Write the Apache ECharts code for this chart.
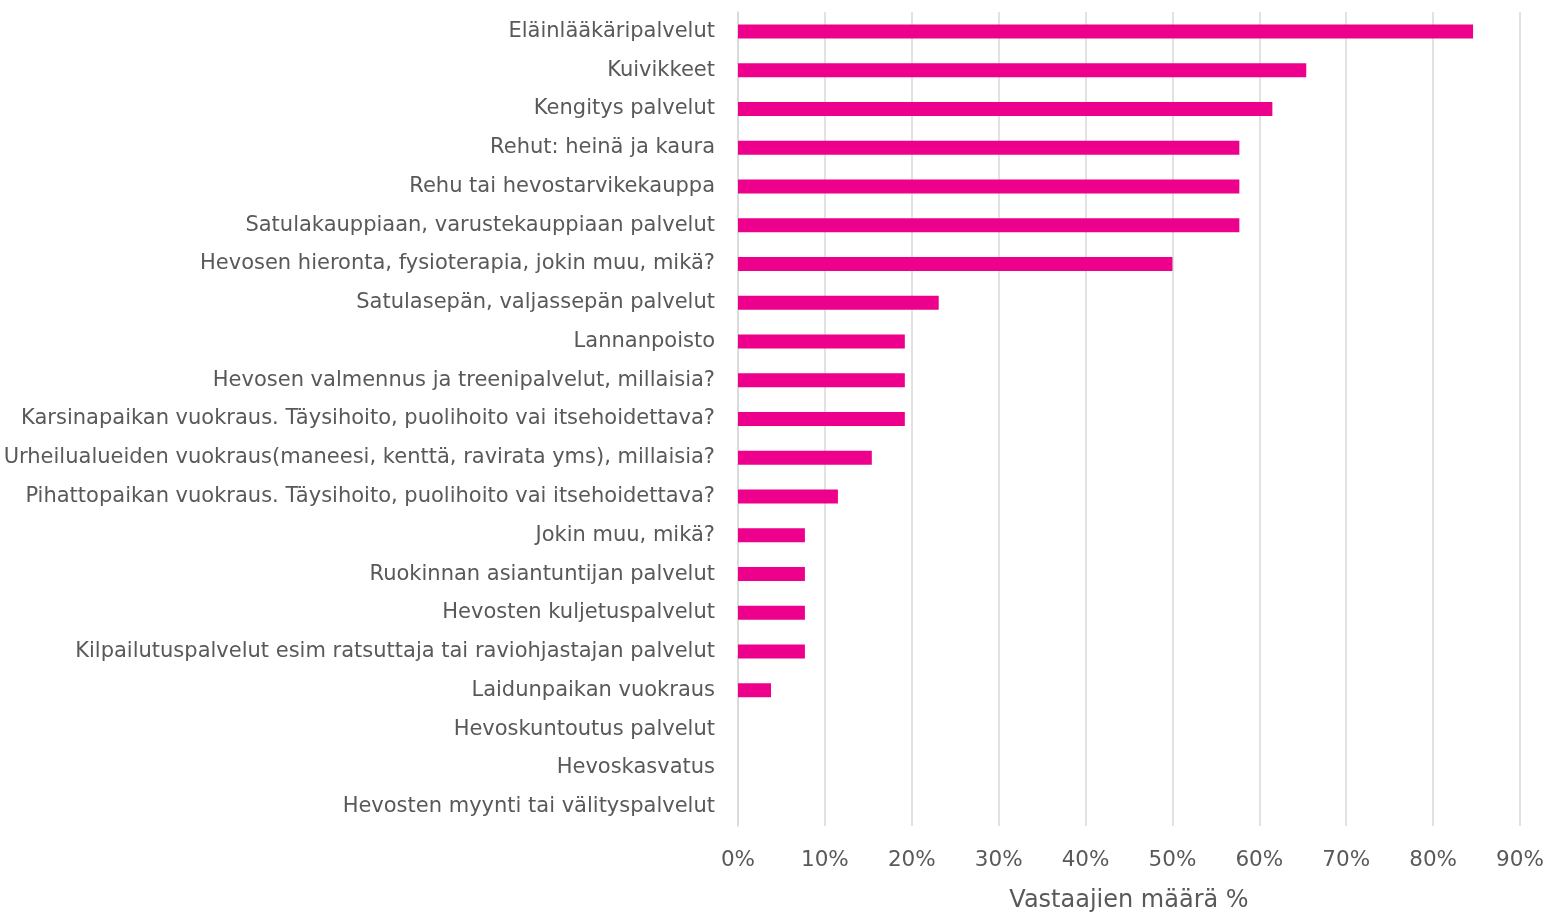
<!DOCTYPE html>
<html lang="fi">
<head>
	<meta charset="UTF-8">
	<title>Vastaajien määrä</title>
	<style type="text/css">
		html, body { margin: 0; padding: 0; background: #fff; }
		#chart { width: 1548px; height: 918px; }
	</style>
</head>
<body>
	<div id="chart"></div>
	<script type="text/javascript" src="https://cdn.jsdelivr.net/npm/echarts@6/dist/echarts.min.js"></script>
	<script type="text/javascript">
		// palvelut ylhäältä alas
		var categories = [
			'Eläinlääkäripalvelut',
			'Kuivikkeet',
			'Kengitys palvelut',
			'Rehut: heinä ja kaura',
			'Rehu tai hevostarvikekauppa',
			'Satulakauppiaan, varustekauppiaan palvelut',
			'Hevosen hieronta, fysioterapia, jokin muu, mikä?',
			'Satulasepän, valjassepän palvelut',
			'Lannanpoisto',
			'Hevosen valmennus ja treenipalvelut, millaisia?',
			'Karsinapaikan vuokraus. Täysihoito, puolihoito vai itsehoidettava?',
			'Urheilualueiden vuokraus(maneesi, kenttä, ravirata yms), millaisia?',
			'Pihattopaikan vuokraus. Täysihoito, puolihoito vai itsehoidettava?',
			'Jokin muu, mikä?',
			'Ruokinnan asiantuntijan palvelut',
			'Hevosten kuljetuspalvelut',
			'Kilpailutuspalvelut esim ratsuttaja tai raviohjastajan palvelut',
			'Laidunpaikan vuokraus',
			'Hevoskuntoutus palvelut',
			'Hevoskasvatus',
			'Hevosten myynti tai välityspalvelut'
		];
		var values = [84.6, 65.4, 61.5, 57.7, 57.7, 57.7, 50.0, 23.1, 19.2, 19.2, 19.2, 15.4, 11.5, 7.7, 7.7, 7.7, 7.7, 3.8, 0, 0, 0];
		var axisName = 'Vastaajien määrä %';

		var font = 'Tahoma, "DejaVu Sans", sans-serif';
		var myChart = echarts.init(document.getElementById('chart'));
		var option = {
			animation: false,
			grid: { left: 738, right: 28, top: 12, bottom: 84 },
			xAxis: {
				type: 'value',
				min: 0,
				max: 90,
				interval: 10,
				name: axisName,
				nameLocation: 'middle',
				nameGap: 63,
				nameTextStyle: { color: '#595959', fontSize: 24, fontFamily: font },
				axisLine: { show: false },
				axisTick: { show: false },
				axisLabel: { formatter: '{value}%', color: '#595959', fontSize: 21.5, fontFamily: font, margin: 23 },
				splitLine: { lineStyle: { color: '#d9d9d9', width: 1.5 } }
			},
			yAxis: {
				type: 'category',
				inverse: true,
				data: categories,
				axisLine: { lineStyle: { color: '#d9d9d9', width: 1.5 } },
				axisTick: { show: false },
				axisLabel: { color: '#595959', fontSize: 21, fontFamily: font, margin: 23 }
			},
			series: [{
				type: 'bar',
				data: values,
				barWidth: 14,
				itemStyle: { color: '#EC008C' }
			}]
		};
		myChart.setOption(option);
	</script>
</body>
</html>
